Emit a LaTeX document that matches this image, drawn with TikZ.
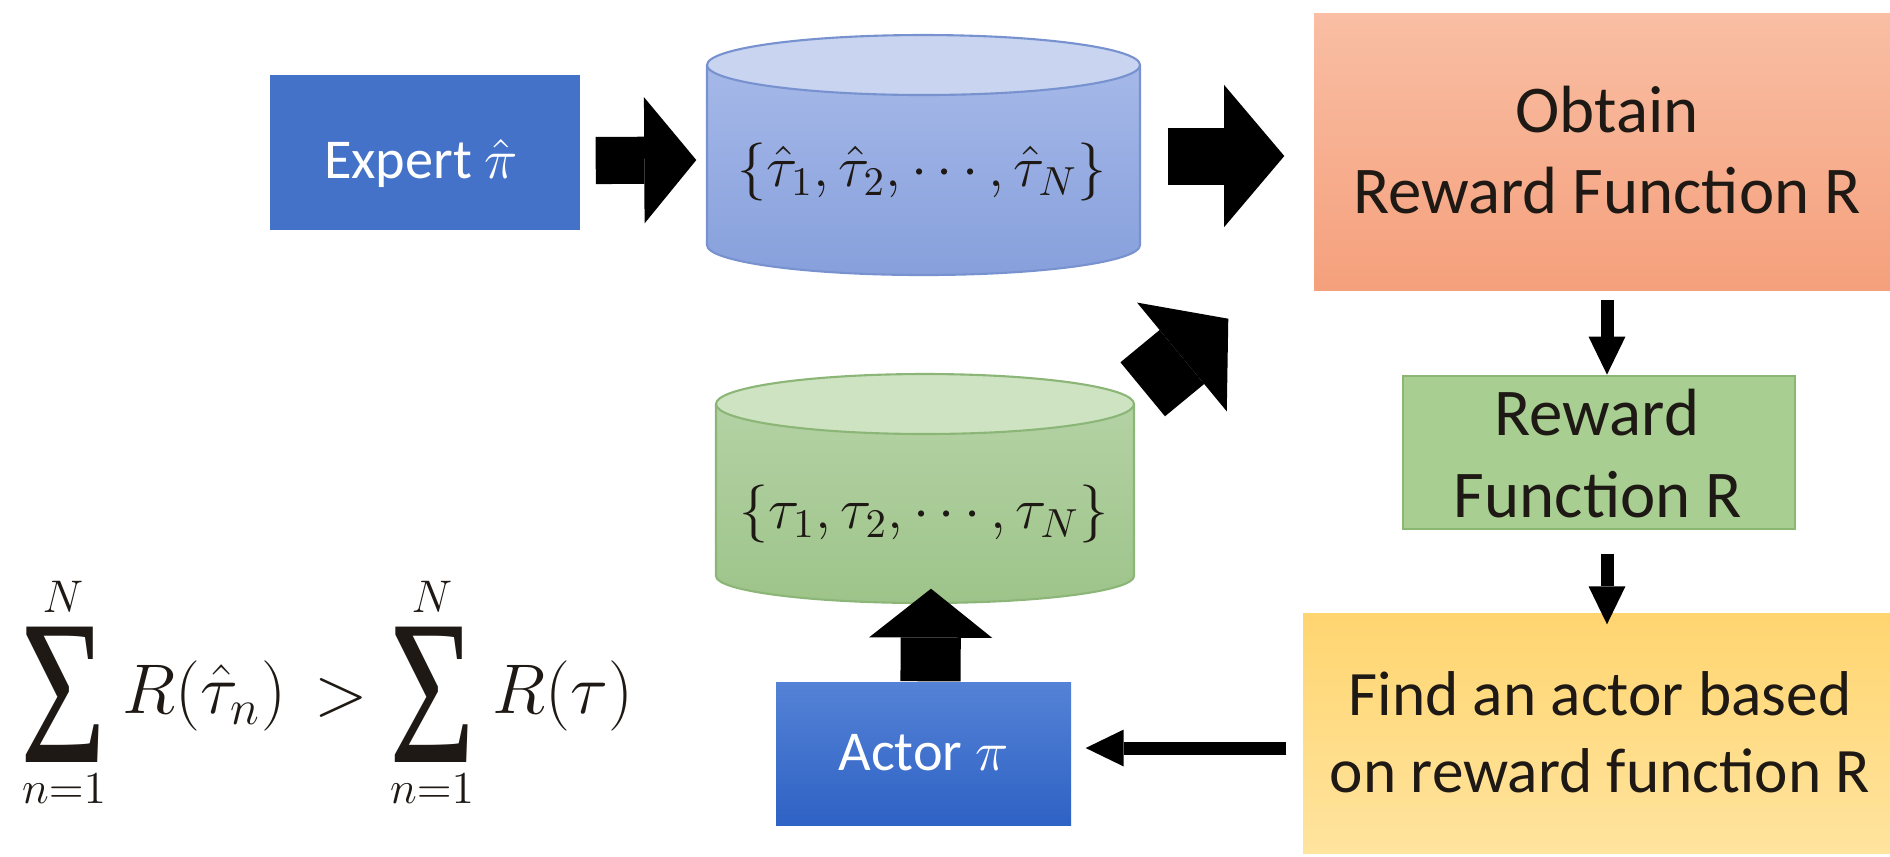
\RequirePackage{fix-cm}
\documentclass[tikz,border=0pt]{standalone}
\usepackage[no-math]{fontspec}
\setmainfont{Carlito}
\newfontfamily\sigmafont{Liberation Serif}
\usepackage{graphicx}
\usetikzlibrary{arrows.meta,calc,fit}
\definecolor{expertblue}{RGB}{67,114,200}
\definecolor{actortop}{RGB}{84,130,214}
\definecolor{actorbot}{RGB}{46,98,196}
\definecolor{bcyltop}{RGB}{200,212,240}
\definecolor{bcylbody}{RGB}{165,184,232}
\definecolor{bcylbot}{RGB}{135,160,220}
\definecolor{bcyledge}{RGB}{120,146,208}
\definecolor{gcyltop}{RGB}{206,227,194}
\definecolor{gcylbody}{RGB}{180,210,164}
\definecolor{gcylbot}{RGB}{158,196,138}
\definecolor{gcyledge}{RGB}{140,182,120}
\definecolor{obtop}{RGB}{249,190,164}
\definecolor{obbot}{RGB}{245,160,124}
\definecolor{rwfill}{RGB}{168,206,146}
\definecolor{rwedge}{RGB}{138,184,114}
\definecolor{fdtop}{RGB}{255,213,112}
\definecolor{fdbot}{RGB}{255,228,158}
\definecolor{ink}{RGB}{30,25,20}
\begin{document}
\begin{tikzpicture}[x=0.01cm,y=-0.01cm,
  box/.style={rectangle, inner sep=0pt},
  whitetxt/.style={text=white, inner sep=0pt, anchor=base, font=\fontsize{16}{19}\selectfont},
  darktxt/.style={text=ink, inner sep=0pt, anchor=base, font=\fontsize{19}{23}\selectfont},
  findtxt/.style={text=ink, inner sep=0pt, anchor=base, font=\fontsize{18}{22}\selectfont},
  cyltxt/.style={text=ink, inner sep=0pt, font=\fontsize{16.5}{20}\selectfont},
  fat/.style n args={3}{line width=#1, -{Triangle[length=#2, width=#3, line width=0pt]}},
  thinarrow/.style={line width=3.7pt, -{Triangle[length=10.8pt, width=10.5pt, line width=0pt]}},
  mathtxt/.style={inner sep=0pt, text=ink, font=\fontsize{20}{24}\selectfont},
  sigmatxt/.style={inner sep=0pt, text=ink, font=\sigmafont\fontsize{42}{42}\selectfont},
  limtxt/.style={inner sep=0pt, text=ink, font=\fontsize{13}{15}\selectfont}
]
\useasboundingbox (0,0) rectangle (1890,856);
\fill[white] (0,0) rectangle (1890,856);

% boxes
\node[box, fit={(270,75) (580,230)}, fill=expertblue] (expert) {};
\node[whitetxt] (expertlbl) at (421,178) {Expert $\hat{\pi}$};
\node[box, fit={(776,682) (1071,825)}, top color=actortop, bottom color=actorbot] (actor) {};
\node[whitetxt] (actorlbl) at (923.5,770) {Actor $\pi$};
\node[box, fit={(1314,13) (1900,290)}, top color=obtop, bottom color=obbot] (obtain) {};
\node[darktxt] (oblbla) at (1607,132) {Obtain};
\node[darktxt] (oblblb) at (1607,213) {Reward Function R};
\node[box, fit={(1403,376) (1795,529)}, fill=rwfill, draw=rwedge, line width=0.8pt] (reward) {};
\node[darktxt] (rwlbla) at (1597,435) {Reward};
\node[darktxt] (rwlblb) at (1598,517) {Function R};
\node[box, fit={(1303,613) (1897,853)}, top color=fdtop, bottom color=fdbot] (find) {};
\node[findtxt] (fdlbla) at (1600,715) {Find an actor based};
\node[findtxt] (fdlblb) at (1600,792) {on reward function R};

% blue cylinder
\node[box, fit={(707,35) (1140,275)}] (bcyl) {};
\fill[top color=bcylbody, bottom color=bcylbot] (707,65) -- (707,245) arc[start angle=180, end angle=0, x radius=216.5, y radius=30] -- (1140,65) -- cycle;
\draw[bcyledge, line width=0.6pt] (707,65) -- (707,245) arc[start angle=180, end angle=0, x radius=216.5, y radius=30] -- (1140,65);
\filldraw[fill=bcyltop, draw=bcyledge, line width=0.6pt] (923.5,65) ellipse[x radius=216.5, y radius=30];
\node[cyltxt] (btext) at (922,172) {$\{\hat{\tau}_1,\hat{\tau}_2,\cdots,\hat{\tau}_N\}$};

% green cylinder
\node[box, fit={(716,374) (1134,603)}] (gcyl) {};
\fill[top color=gcylbody, bottom color=gcylbot] (716,404) -- (716,576) arc[start angle=180, end angle=0, x radius=209, y radius=27] -- (1134,404) -- cycle;
\draw[gcyledge, line width=0.6pt] (716,404) -- (716,576) arc[start angle=180, end angle=0, x radius=209, y radius=27] -- (1134,404);
\filldraw[fill=gcyltop, draw=gcyledge, line width=0.6pt] (925,404) ellipse[x radius=209, y radius=30];
\node[cyltxt] (gtext) at (924,514) {$\{\tau_1,\tau_2,\cdots,\tau_N\}$};

% block arrows
\draw[fat={13.4pt}{14.8pt}{35.9pt}] ($(expert.east)+(15,8)$) -- ($(bcyl.west)+(-10,5)$);
\draw[fat={16.2pt}{17.1pt}{40.4pt}] ($(bcyl.east)+(27,1)$) -- ($(obtain.west)+(-29,4.5)$);
\coordinate (dtail) at ($(gcyl.north east)+(8,16)$);
\coordinate (dtip) at ($(obtain.south west)+(-85,28)$);
\draw[fat={19.9pt}{17.1pt}{40.1pt}] (dtail) -- (dtip);
\draw[fat={17.1pt}{13.9pt}{35pt}] ($(actor.north)+(7,0)$) -- ($(gcyl.south)+(6,-15)$);

% thin arrows
\coordinate (d1s) at ($(obtain.south)+(0,9)$);
\draw[thinarrow] (d1s) -- (d1s |- reward.north);
\coordinate (d2s) at ($(reward.south)+(8,24)$);
\coordinate (d2e) at (d2s |- find.north);
\draw[thinarrow] (d2s) -- ($(d2e)+(0,12)$);
\coordinate (ls) at ($(find.west)+(-16,15)$);
\coordinate (le) at (ls -| actor.east);
\draw[thinarrow] (ls) -- ($(le)+(14,0)$);

% formula
\node[sigmatxt] (sum1) at (63,695) {\scalebox{1}[1.4]{Σ}};
\node[limtxt] (up1) at (63,597) {$N$};
\node[limtxt] (lo1) at (64,789) {$n{=}1$};
\node[mathtxt, anchor=west] (lhs) at (122,696) {$R(\hat{\tau}_n)$};
\node[mathtxt] (gt) at (341,698) {$>$};
\node[sigmatxt] (sum2) at (432,695) {\scalebox{1}[1.4]{Σ}};
\node[limtxt] (up2) at (432,597) {$N$};
\node[limtxt] (lo2) at (432,789) {$n{=}1$};
\node[mathtxt, anchor=west] (rhs) at (492,696) {$R(\tau)$};
\end{tikzpicture}
\end{document}
